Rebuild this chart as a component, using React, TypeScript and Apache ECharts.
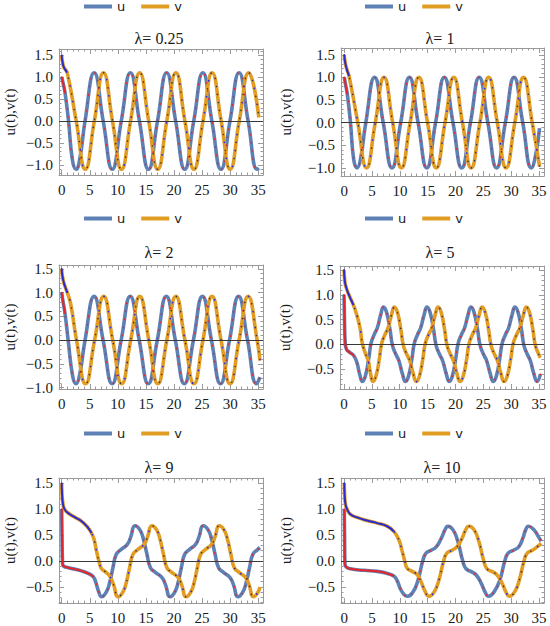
import React, { useEffect, useRef } from "react";
import * as echarts from "echarts";

// ---------- data (t, value) ----------
const U_025 = [[0,1.0],[0.25,0.86],[0.6,0.64],[1.2,0.02],[1.9,-0.88],[2.55,-1.1],[3.2,-0.88],[4.16,0],[5.78,1.1],[7.39,0],[9.0,-1.1],[10.61,0],[12.23,1.1],[13.84,0],[15.45,-1.1],[17.06,0],[18.68,1.1],[20.29,0],[21.9,-1.1],[23.51,0],[25.13,1.1],[26.74,0],[28.35,-1.1],[29.96,0],[31.58,1.1],[33.19,0],[34.8,-1.1],[35.1,-1.07]];
const V_025 = [[0,1.5],[0.12,1.36],[0.4,1.22],[0.98,1.1],[2.59,0],[4.2,-1.1],[5.81,0],[7.43,1.1],[9.04,0],[10.65,-1.1],[12.26,0],[13.88,1.1],[15.49,0],[17.1,-1.1],[18.71,0],[20.33,1.1],[21.94,0],[23.55,-1.1],[25.16,0],[26.78,1.1],[28.39,0],[30.0,-1.1],[31.61,0],[33.3,1.1],[35.1,0.08]];

const U_1 = [[0,1.0],[0.2,0.86],[0.55,0.62],[1.1,0.02],[1.7,-0.82],[2.3,-1.0],[2.9,-0.82],[3.87,0],[5.44,1.0],[7.0,0],[8.57,-1.0],[10.14,0],[11.71,1.0],[13.27,0],[14.84,-1.0],[16.41,0],[17.98,1.0],[19.54,0],[21.11,-1.0],[22.68,0],[24.25,1.0],[25.81,0],[27.38,-1.0],[28.95,0],[30.52,1.0],[32.08,0],[33.65,-1.0],[34.45,-0.68],[35.1,-0.12]];
const V_1 = [[0,1.5],[0.12,1.36],[0.4,1.2],[0.86,1.03],[2.43,0],[4.0,-1.0],[5.57,0],[7.14,1.0],[8.7,0],[10.27,-1.0],[11.84,0],[13.41,1.0],[14.97,0],[16.54,-1.0],[18.11,0],[19.68,1.0],[21.24,0],[22.81,-1.0],[24.38,0],[25.95,1.0],[27.51,0],[29.08,-1.0],[30.65,0],[32.22,1.0],[33.78,0],[35.1,-0.97]];

const U_2 = [[0,1.0],[0.2,0.84],[0.6,0.55],[1.15,0.0],[1.95,-0.76],[2.55,-0.92],[3.15,-0.76],[4.16,0],[5.77,0.92],[7.37,0],[8.98,-0.92],[10.59,0],[12.2,0.92],[13.8,0],[15.41,-0.92],[17.02,0],[18.63,0.92],[20.23,0],[21.84,-0.92],[23.45,0],[25.06,0.92],[26.66,0],[28.27,-0.92],[29.88,0],[31.49,0.92],[33.09,0],[34.7,-0.92],[35.3,-0.78]];
const V_2 = [[0,1.5],[0.12,1.35],[0.45,1.18],[1.0,1.0],[1.6,0.76],[2.64,0],[4.25,-0.92],[5.86,0],[7.47,0.92],[9.08,0],[10.68,-0.92],[12.29,0],[13.9,0.92],[15.51,0],[17.11,-0.92],[18.72,0],[20.33,0.92],[21.94,0],[23.54,-0.92],[25.15,0],[26.76,0.92],[28.37,0],[29.97,-0.92],[31.58,0],[33.19,0.92],[34.8,0],[35.3,-0.43]];

const U_5 = [[0,1.0],[0.08,0.55],[0.2,0.05],[0.45,-0.1],[1.0,-0.16],[1.7,-0.22],[2.3,-0.36],[2.85,-0.62],[3.3,-0.75],
  [3.83,-0.64],[4.42,-0.3],[4.85,0.02],[5.43,0.2],[5.97,0.33],[6.55,0.58],[7.1,0.75],
  [7.65,0.64],[8.25,0.3],[8.7,-0.02],[9.3,-0.2],[9.85,-0.33],[10.45,-0.58],[11.05,-0.75],
  [11.59,-0.64],[12.18,-0.3],[12.62,0.02],[13.21,0.2],[13.75,0.33],[14.34,0.58],[14.9,0.75],
  [15.46,0.64],[16.07,0.3],[16.53,-0.02],[17.14,-0.2],[17.7,-0.33],[18.32,-0.58],[18.9,-0.75],
  [19.45,-0.64],[20.04,-0.3],[20.49,0.02],[21.09,0.2],[21.64,0.33],[22.23,0.58],[22.8,0.75],
  [23.36,0.64],[23.97,0.3],[24.43,-0.02],[25.04,-0.2],[25.6,-0.33],[26.22,-0.58],[26.8,-0.75],
  [27.35,-0.64],[27.94,-0.3],[28.39,0.02],[28.99,0.2],[29.54,0.33],[30.13,0.58],[30.7,0.75],
  [31.25,0.64],[31.85,0.3],[32.3,-0.02],[32.9,-0.2],[33.45,-0.33],[34.05,-0.58],[34.65,-0.75],
  [35.25,-0.6]];
const V_5 = [[0,1.5],[0.12,1.3],[0.3,1.18],[0.8,1.02],[1.7,0.79],[2.3,0.59],[2.9,0.32],[3.25,0.04],[3.8,-0.17],[4.35,-0.33],[4.75,-0.58],[5.2,-0.75],
  [5.74,-0.64],[6.33,-0.3],[6.77,0.02],[7.36,0.2],[7.9,0.33],[8.49,0.58],[9.05,0.75],
  [9.6,0.64],[10.2,0.3],[10.65,-0.02],[11.25,-0.2],[11.8,-0.33],[12.4,-0.58],[13.0,-0.75],
  [13.55,-0.64],[14.14,-0.3],[14.59,0.02],[15.19,0.2],[15.74,0.33],[16.33,0.58],[16.9,0.75],
  [17.45,0.64],[18.05,0.3],[18.5,-0.02],[19.1,-0.2],[19.65,-0.33],[20.25,-0.58],[20.85,-0.75],
  [21.4,-0.64],[22.01,-0.3],[22.46,0.02],[23.07,0.2],[23.62,0.33],[24.23,0.58],[24.8,0.75],
  [25.35,0.64],[25.95,0.3],[26.4,-0.02],[27.0,-0.2],[27.55,-0.33],[28.15,-0.58],[28.75,-0.75],
  [29.31,-0.64],[29.92,-0.3],[30.38,0.02],[30.99,0.2],[31.55,0.33],[32.17,0.58],[32.75,0.75],
  [33.3,0.64],[33.9,0.3],[34.35,-0.02],[34.95,-0.2],[35.25,-0.27]];

const U_9 = [[0,1.0],[0.06,0.5],[0.15,-0.05],[0.35,-0.1],[1.2,-0.13],[2.4,-0.16],[3.5,-0.19],[4.7,-0.24],[5.6,-0.3],[6.1,-0.42],[6.55,-0.58],[7.1,-0.69],
  [7.93,-0.6],[8.53,-0.42],[9.12,-0.13],[9.72,0.13],[10.55,0.22],[11.68,0.32],[12.28,0.46],[13.05,0.68],
  [13.93,0.6],[14.55,0.42],[15.18,0.13],[15.8,-0.13],[16.68,-0.22],[17.86,-0.32],[18.49,-0.46],[19.3,-0.69],
  [20.13,-0.6],[20.72,-0.42],[21.3,-0.13],[21.9,0.13],[22.72,0.22],[23.84,0.32],[24.43,0.46],[25.2,0.68],
  [26.07,0.6],[26.69,0.42],[27.31,0.13],[27.93,-0.13],[28.8,-0.22],[29.97,-0.32],[30.59,-0.46],[31.4,-0.69],
  [32.24,-0.6],[32.84,-0.42],[33.44,-0.13],[34.04,0.13],[34.88,0.22],[35.3,0.26]];
const V_9 = [[0,1.5],[0.06,1.3],[0.2,1.12],[0.5,1.0],[1.2,0.92],[2.4,0.84],[3.5,0.77],[4.7,0.64],[5.3,0.54],[5.75,0.42],[6.2,0.19],[6.7,-0.03],[7.1,-0.15],[7.9,-0.22],[8.6,-0.3],[9.25,-0.46],[10.05,-0.69],
  [10.89,-0.6],[11.49,-0.42],[12.09,-0.13],[12.69,0.13],[13.53,0.22],[14.67,0.32],[15.27,0.46],[16.05,0.68],
  [16.9,0.6],[17.51,0.42],[18.12,0.13],[18.73,-0.13],[19.59,-0.22],[20.75,-0.32],[21.36,-0.46],[22.15,-0.69],
  [22.98,-0.6],[23.57,-0.42],[24.15,-0.13],[24.75,0.13],[25.57,0.22],[26.69,0.32],[27.28,0.46],[28.05,0.68],
  [28.9,0.6],[29.51,0.42],[30.12,0.13],[30.73,-0.13],[31.59,-0.22],[32.75,-0.32],[33.36,-0.46],[34.15,-0.69],
  [34.95,-0.6],[35.3,-0.5]];

const U_10 = [[0,1.0],[0.05,0.5],[0.12,-0.05],[0.3,-0.11],[1.1,-0.15],[3.5,-0.18],[5.9,-0.2],[7.7,-0.24],[8.9,-0.29],[9.5,-0.38],[10.1,-0.54],[10.7,-0.64],[11.3,-0.68],
  [12.35,-0.6],[13.25,-0.37],[14.1,0.0],[14.7,0.15],[15.7,0.21],[16.6,0.28],[17.45,0.44],[18.1,0.6],[18.6,0.67],
  [19.55,0.6],[20.43,0.37],[21.3,0.0],[21.89,-0.15],[22.91,-0.21],[23.78,-0.28],[24.66,-0.44],[25.32,-0.6],[25.9,-0.68],
  [26.9,-0.6],[27.95,-0.37],[28.85,0.0],[29.45,0.15],[30.5,0.21],[31.4,0.28],[32.1,0.44],[32.6,0.6],[33.1,0.67],
  [34.1,0.6],[35.0,0.45],[35.4,0.38]];
const V_10 = [[0,1.5],[0.05,1.3],[0.2,1.1],[0.5,1.0],[1.1,0.9],[2.3,0.84],[4.1,0.78],[5.9,0.73],[7.7,0.67],[8.9,0.57],[9.8,0.41],[10.4,0.19],[10.9,-0.01],[11.3,-0.14],[12.2,-0.2],[13.1,-0.26],[13.8,-0.4],[14.5,-0.58],[15.2,-0.68],
  [16.14,-0.6],[17.0,-0.37],[17.86,0.0],[18.44,0.15],[19.45,0.21],[20.31,0.28],[21.18,0.44],[21.82,0.6],[22.4,0.67],
  [23.34,0.6],[24.21,0.37],[25.08,0.0],[25.66,-0.15],[26.68,-0.21],[27.55,-0.28],[28.42,-0.44],[29.07,-0.6],[29.65,-0.68],
  [30.59,-0.6],[31.45,-0.37],[32.31,0.0],[32.89,0.15],[33.9,0.21],[34.76,0.28],[35.4,0.34]];

const LAMBDAS = ["0.25", "1", "2", "5", "9", "10"];
const U_SERIES = [U_025, U_1, U_2, U_5, U_9, U_10];
const V_SERIES = [V_025, V_1, V_2, V_5, V_9, V_10];
// end of the densely sampled start segment of each numerical solution
const DENSE_U = [0.6, 0.55, 0.6, 1.7, 5.6, 8.9];
const DENSE_V = [1.0, 0.86, 1.0, 1.7, 5.3, 8.9];

const X_MAJOR = [0, 5, 10, 15, 20, 25, 30, 35];
const X_MINOR = [1,2,3,4,6,7,8,9,11,12,13,14,16,17,18,19,21,22,23,24,26,27,28,29,31,32,33,34];
const Y_MAJOR = [-1.0, -0.5, 0, 0.5, 1.0, 1.5];
const Y_MINOR = [-1.2,-1.1,-0.9,-0.8,-0.7,-0.6,-0.4,-0.3,-0.2,-0.1,0.1,0.2,0.3,0.4,0.6,0.7,0.8,0.9,1.1,1.2,1.3,1.4,1.6];

// ---------- layout ----------
const LAYOUT = [
  { left: 59, top: 49, width: 204, height: 126, xr: [-0.48, 35.84], yr: [-1.23, 1.64], legend: [84, 0], title: [159, 38], nameGap: 42 },
  { left: 341, top: 48, width: 203, height: 128, xr: [-0.59, 35.9], yr: [-1.18, 1.65], legend: [365, 0], title: [440, 38], nameGap: 48 },
  { left: 59, top: 265, width: 204, height: 124, xr: [-0.48, 35.84], yr: [-1.03, 1.58], legend: [84, 212], title: [159, 252], nameGap: 42 },
  { left: 340, top: 266, width: 204, height: 123, xr: [-0.72, 35.9], yr: [-0.9, 1.58], legend: [365, 212], title: [440, 252], nameGap: 48 },
  { left: 59, top: 478, width: 204, height: 125, xr: [-0.48, 35.84], yr: [-0.81, 1.6], legend: [84, 427], title: [159, 467], nameGap: 42 },
  { left: 341, top: 478, width: 203, height: 125, xr: [-0.59, 35.9], yr: [-0.81, 1.6], legend: [365, 427], title: [442, 467], nameGap: 48 },
];

const BLUE = "#5E81B5";
const ORANGE = "#E19C24";
const RED_DOT = "#e3262c";
const BLUE_DOT = "#2b2bd0";
const BLACK_DOT = "#333333";
const FRAME = "#9a9a9a";
const TXT = "#1a1a1a";
const SERIF = "Times New Roman, Liberation Serif, DejaVu Serif, serif";

function buildOption() {
  const grid: any[] = [];
  const xAxis: any[] = [];
  const yAxis: any[] = [];
  const series: any[] = [];
  const legend: any[] = [];
  const graphic: any[] = [];

  LAYOUT.forEach((L, i) => {
    grid.push({ left: L.left, top: L.top, width: L.width, height: L.height, containLabel: false });
    const yMajor = Y_MAJOR.filter((v) => v >= L.yr[0] && v <= L.yr[1]);
    const yMinor = Y_MINOR.filter((v) => v >= L.yr[0] && v <= L.yr[1]);
    const xBase = { type: "value", gridIndex: i, min: L.xr[0], max: L.xr[1], splitLine: { show: false } };
    const yBase = { type: "value", gridIndex: i, min: L.yr[0], max: L.yr[1], splitLine: { show: false } };
    const line = (show: boolean) => ({ show, onZero: false, lineStyle: { color: FRAME, width: 1 } });
    const tick = (vals: number[], len: number) => ({ show: true, inside: true, length: len, customValues: vals, lineStyle: { color: FRAME, width: 1 } });

    const xi = xAxis.length;
    xAxis.push({
      ...xBase, position: "bottom", axisLine: line(true), axisTick: tick(X_MAJOR, 5),
      axisLabel: { show: true, customValues: X_MAJOR, margin: 7, color: TXT, fontFamily: SERIF, fontSize: 15, formatter: (v: number) => String(v) },
    });
    xAxis.push({ ...xBase, position: "bottom", axisLine: line(false), axisTick: tick(X_MINOR, 2.5), axisLabel: { show: false } });
    xAxis.push({ ...xBase, position: "top", axisLine: line(true), axisTick: tick(X_MAJOR, 5), axisLabel: { show: false } });
    xAxis.push({ ...xBase, position: "top", axisLine: line(false), axisTick: tick(X_MINOR, 2.5), axisLabel: { show: false } });

    const yi = yAxis.length;
    yAxis.push({
      ...yBase, position: "left", axisLine: line(true), axisTick: tick(yMajor, 5),
      axisLabel: {
        show: true, customValues: yMajor, margin: 6, color: TXT, fontFamily: SERIF, fontSize: 15,
        formatter: (v: number) => (v < 0 ? "\u2212" : "") + Math.abs(v).toFixed(1),
      },
      name: "u(t),v(t)", nameLocation: "middle", nameRotate: 90, nameGap: L.nameGap,
      nameTextStyle: { fontFamily: SERIF, fontSize: 15, color: TXT },
    });
    yAxis.push({ ...yBase, position: "left", axisLine: line(false), axisTick: tick(yMinor, 2.5), axisLabel: { show: false } });
    yAxis.push({ ...yBase, position: "right", axisLine: line(true), axisTick: tick(yMajor, 5), axisLabel: { show: false } });
    yAxis.push({ ...yBase, position: "right", axisLine: line(false), axisTick: tick(yMinor, 2.5), axisLabel: { show: false } });

    const U = U_SERIES[i];
    const V = V_SERIES[i];
    const common = { type: "line", xAxisIndex: xi, yAxisIndex: yi, smooth: 0.5, symbol: "none", silent: true };

    series.push({
      ...common, name: "u", data: U, color: BLUE, itemStyle: { color: BLUE },
      lineStyle: { color: BLUE, width: 3.6 }, z: 2,
      markLine: {
        silent: true, symbol: ["none", "none"], label: { show: false },
        lineStyle: { color: "#3a3a3a", width: 1, type: "solid" }, data: [{ yAxis: 0 }],
      },
    });
    series.push({ ...common, name: "v", data: V, color: ORANGE, itemStyle: { color: ORANGE }, lineStyle: { color: ORANGE, width: 3.6 }, z: 3 });

    // numerical-solution markers drawn on top of the curves
    series.push({ ...common, name: "u-num", data: U, lineStyle: { color: RED_DOT, width: 1.7, type: [0.1, 8], cap: "round" }, z: 4 });
    series.push({ ...common, name: "v-num", data: V, lineStyle: { color: BLUE_DOT, width: 1.7, type: [0.1, 16], cap: "round" }, z: 4 });
    series.push({ ...common, name: "v-num2", data: V, lineStyle: { color: BLACK_DOT, width: 1.5, type: [0.1, 16], dashOffset: 8, cap: "round" }, z: 4 });
    series.push({ ...common, name: "u-dense", data: U.filter((p) => p[0] <= DENSE_U[i]), lineStyle: { color: RED_DOT, width: 2 }, z: 5 });
    series.push({ ...common, name: "v-dense", data: V.filter((p) => p[0] <= DENSE_V[i]), lineStyle: { color: BLUE_DOT, width: 2 }, z: 5 });

    legend.push({
      data: ["u", "v"], left: L.legend[0], top: L.legend[1], padding: 0, itemGap: 16,
      itemWidth: 28, itemHeight: 4, icon: "rect", selectedMode: false,
      textStyle: { fontFamily: "DejaVu Sans", fontSize: 13, color: TXT },
    });

    graphic.push({
      type: "text", x: L.title[0], y: L.title[1], silent: true,
      style: { text: "\u03bb= " + LAMBDAS[i], fontFamily: SERIF, fontSize: 16, fill: TXT, align: "center", verticalAlign: "middle" },
    });
  });

  return {
    animation: false,
    backgroundColor: "#ffffff",
    grid, xAxis, yAxis, series, legend,
    graphic: { elements: graphic },
  };
}

export default function App() {
  const ref = useRef<HTMLDivElement>(null);
  useEffect(() => {
    if (!ref.current) return;
    const chart = echarts.init(ref.current, null, { renderer: "svg" });
    chart.setOption(buildOption() as any);
    return () => chart.dispose();
  }, []);
  return (
    <div
      ref={ref}
      style={{ position: "absolute", left: 0, top: 0, width: 550, height: 626, background: "#fff" }}
    />
  );
}
